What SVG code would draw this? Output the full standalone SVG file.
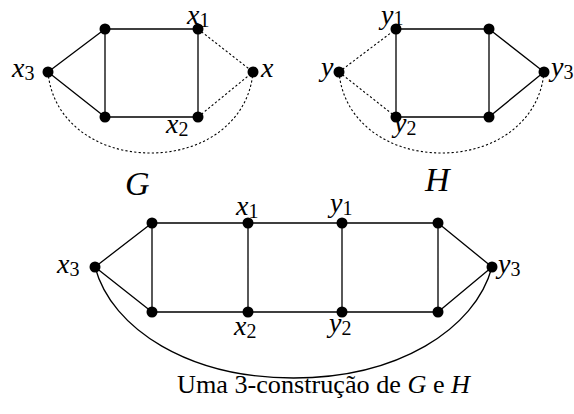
<svg xmlns="http://www.w3.org/2000/svg" width="574" height="414" viewBox="0 0 574 414">
<style>
.e{stroke:#000;stroke-width:1.3;fill:none}
.d{stroke:#000;stroke-width:1.1;fill:none;stroke-dasharray:2.2 2.2}
.n{fill:#000}
text{font-family:'Liberation Serif','Tinos','Noto Serif','FreeSerif','Nimbus Roman','DejaVu Serif','Times',serif;fill:#000}
.m{font-style:italic;font-size:28px}
.s{font-style:normal;font-size:20px}
.big{font-style:italic;font-size:34px}
.cap{font-size:26px}
</style>
<defs><circle id="v" r="5.5" class="n"/></defs>
<g id="connectors">
<path class="e" d="M105,29H198V117H105ZM48,72L105,29M48,72L105,117"/>
<path class="d" d="M198,29L253,72M198,117L253,72M48,72C52,120 95,153 150.5,153C206,153 249,120 253,72"/>
<path class="e" d="M396,29H489V117H396ZM489,29L544,72M489,117L544,72"/>
<path class="d" d="M339,72L396,29M339,72L396,117M339,72C343,120 386,153 441.5,153C497,153 540,120 544,72"/>
<path class="e" d="M152,223H438M152,312H438M152,223V312M248,223V312M342,223V312M438,223V312M95,267L152,223M95,267L152,312M492,267L438,223M492,267L438,312"/>
<path class="e" d="M95,267C112,330 190,378 293.5,378C397,378 475,330 492,267"/>
</g>
<g id="G">
<use href="#v" x="105" y="29"/><use href="#v" x="198" y="29"/><use href="#v" x="48" y="72"/><use href="#v" x="253" y="72"/><use href="#v" x="105" y="117"/><use href="#v" x="198" y="117"/>
<text class="m" x="187" y="24">x<tspan class="s" dy="3">1</tspan></text>
<text class="m" x="12" y="77">x<tspan class="s" dy="3">3</tspan></text>
<text class="m" x="261" y="77">x</text>
<text class="m" x="166" y="133">x<tspan class="s" dy="3">2</tspan></text>
<text class="big" x="125" y="195">G</text>
</g>
<g id="H">
<use href="#v" x="396" y="29"/><use href="#v" x="489" y="29"/><use href="#v" x="339" y="72"/><use href="#v" x="544" y="72"/><use href="#v" x="396" y="117"/><use href="#v" x="489" y="117"/>
<text class="m" x="381" y="24">y<tspan class="s" dy="1">1</tspan></text>
<text class="m" x="321" y="76">y</text>
<text class="m" x="551" y="76">y<tspan class="s" dy="3">3</tspan></text>
<text class="m" x="394" y="132">y<tspan class="s" dy="3">2</tspan></text>
<text class="big" x="425" y="191">H</text>
</g>
<g id="C">
<use href="#v" x="95" y="267"/><use href="#v" x="152" y="223"/><use href="#v" x="248" y="223"/><use href="#v" x="342" y="223"/><use href="#v" x="438" y="223"/>
<use href="#v" x="152" y="312"/><use href="#v" x="248" y="312"/><use href="#v" x="342" y="312"/><use href="#v" x="438" y="312"/><use href="#v" x="492" y="267"/>
<text class="m" x="236" y="215">x<tspan class="s" dy="3">1</tspan></text>
<text class="m" x="330" y="212">y<tspan class="s" dy="3">1</tspan></text>
<text class="m" x="57" y="273">x<tspan class="s" dy="3">3</tspan></text>
<text class="m" x="498" y="273">y<tspan class="s" dy="3">3</tspan></text>
<text class="m" x="234" y="335">x<tspan class="s" dy="3">2</tspan></text>
<text class="m" x="329" y="332">y<tspan class="s" dy="3">2</tspan></text>
</g>
<text class="cap" x="177" y="393" textLength="293" lengthAdjust="spacingAndGlyphs">Uma 3-construção de <tspan font-style="italic">G</tspan> e <tspan font-style="italic">H</tspan></text>
</svg>
